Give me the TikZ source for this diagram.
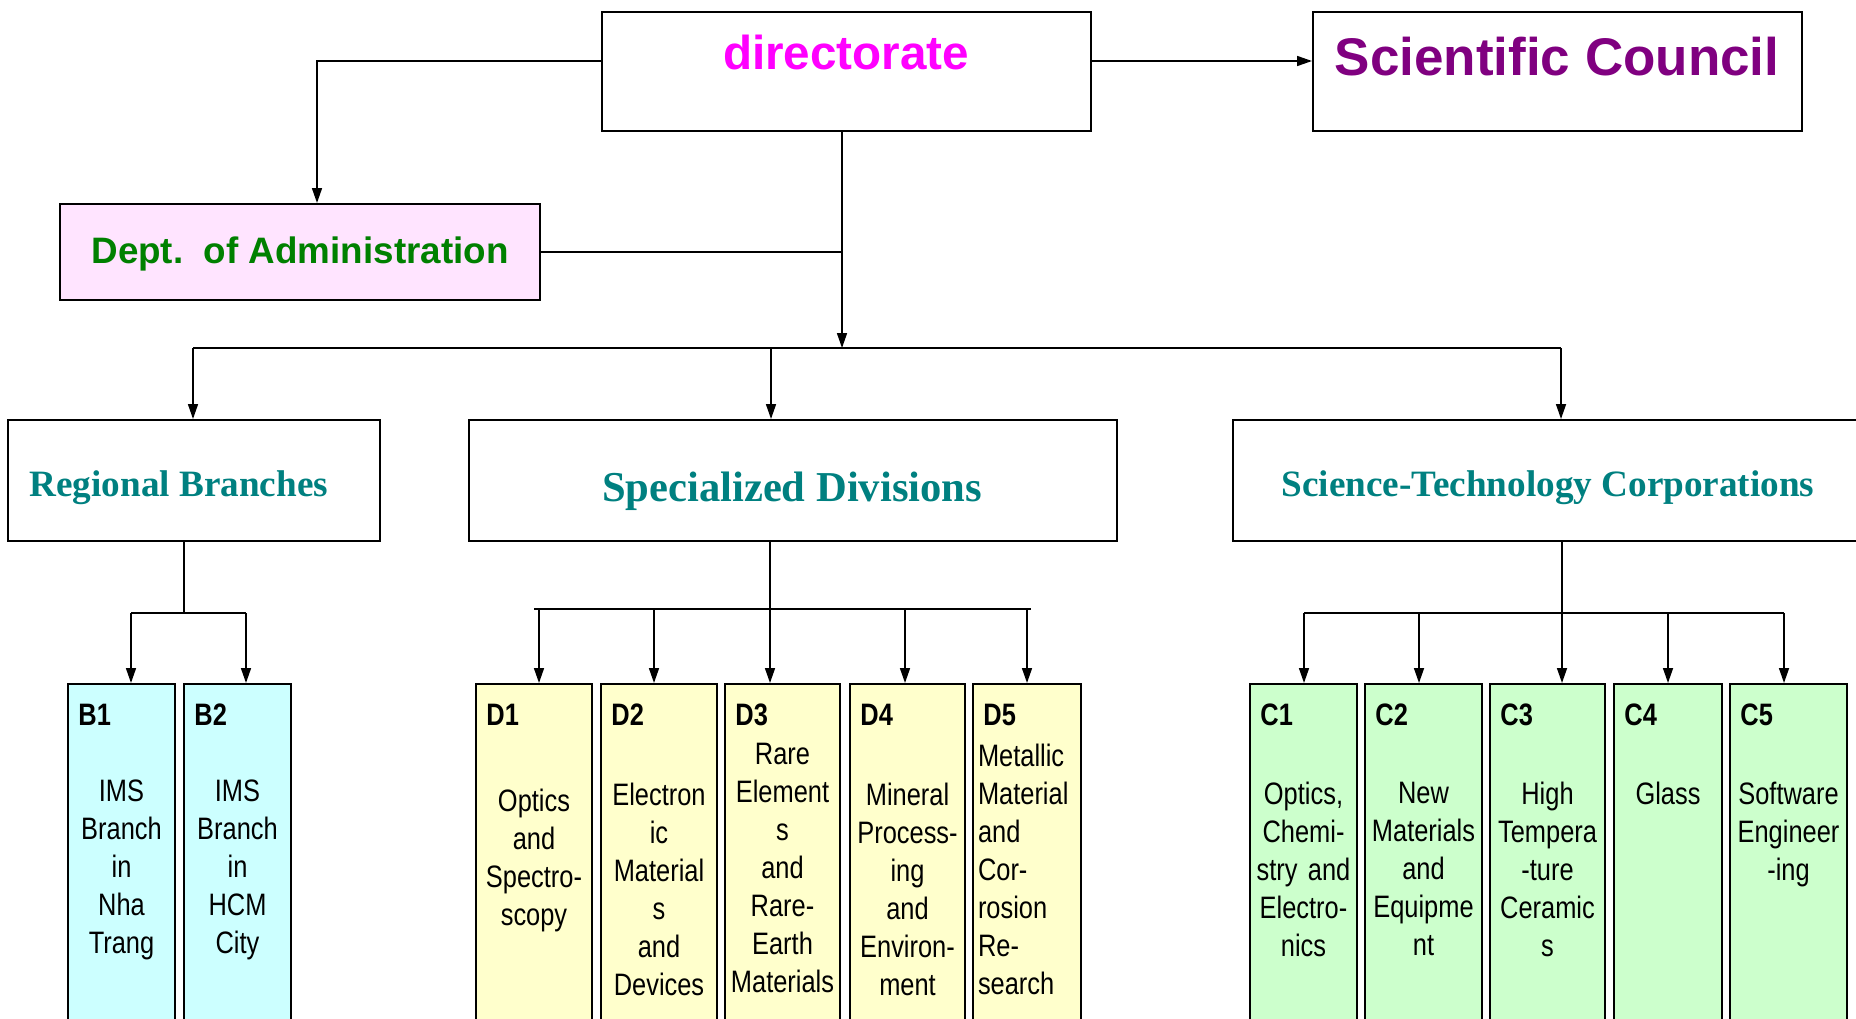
\documentclass[tikz,border=0pt]{standalone}
\usepackage{fontspec}
\setmainfont{Liberation Serif}
\newfontfamily\arialfont{Liberation Sans}
\newfontfamily\narrowfont[FakeStretch=0.82]{Liberation Sans}
\usetikzlibrary{arrows.meta, calc}
\definecolor{DirMagenta}{RGB}{255, 0, 255}
\definecolor{CouncilPurple}{RGB}{128, 0, 128}
\definecolor{AdmGreen}{RGB}{0, 128, 0}
\definecolor{AdmPink}{RGB}{255, 228, 255}
\definecolor{UnitTeal}{RGB}{0, 128, 128}
\definecolor{BranchCyan}{RGB}{204, 255, 255}
\definecolor{DivYellow}{RGB}{255, 255, 204}
\definecolor{CorpGreen}{RGB}{204, 255, 204}

\begin{document}
\begin{tikzpicture}[x=0.5pt, y=-0.5pt,
	box/.style={draw, line width=1pt, inner sep=0pt},
	link/.style={line width=0.8pt},
	arr/.style={link, -{Triangle[length=7.5pt, width=5pt]}},
	unit/.style={font=\bfseries\fontsize{18.6}{22}\selectfont, text=UnitTeal, inner sep=0pt, anchor=base},
	leafid/.style={font=\narrowfont\bfseries\fontsize{15.5}{19}\selectfont, inner sep=0pt, anchor=base west},
	leaftxt/.style={font=\narrowfont\fontsize{15.5}{19}\selectfont, inner sep=0pt, anchor=north},
	txtc/.style={align=center}, txtl/.style={align=left}]
	\clip (0,0) rectangle (1856,1018);
	% top level
	\node[box, minimum width=244.5pt, minimum height=59.5pt] (dir) at (846.5,71.5) {};
	\node[box, minimum width=244.5pt, minimum height=59.5pt] (sci) at (1557.5,71.5) {};
	\node[box, fill=AdmPink, minimum width=240pt, minimum height=48pt] (adm) at (300,252) {};
	\node[font=\arialfont\bfseries\fontsize{23.8}{28}\selectfont, text=DirMagenta, anchor=base] (dir-t) at (846,69) {directorate};
	\node[font=\arialfont\bfseries\fontsize{26.5}{31}\selectfont, text=CouncilPurple, anchor=base] (sci-t) at (1557,75) {Scientific Council};
	\node[font=\arialfont\bfseries\fontsize{18.4}{22}\selectfont, text=AdmGreen, anchor=base] (adm-t) at (300,263) {Dept.\ \ of Administration};
	% units
	\node[box, minimum width=186pt, minimum height=60.5pt] (reg) at (194,480.5) {};
	\node[box, minimum width=324pt, minimum height=60.5pt] (spec) at (793,480.5) {};
	\node[box, minimum width=315pt, minimum height=60.5pt] (corp) at (1548,480.5) {};
	\node[unit, anchor=base west] (reg-t) at (29,496) {Regional Branches};
	\node[unit, font=\bfseries\fontsize{21.3}{25}\selectfont] (spec-t) at (792,501) {Specialized Divisions};
	\node[unit] (corp-t) at (1548,496) {Science-Technology Corporations};
	% connectors
	\coordinate (tap) at (317,61);
	\coordinate (hub) at (842,348);
	\coordinate (busR) at (193,348);
	\coordinate (busS) at (771,348);
	\coordinate (busC) at (1561,348);
	\draw[arr] (dir.west |- tap) -- (tap) -- (tap |- adm.north);
	\draw[arr] (dir.east |- tap) -- (sci.west |- tap);
	\draw[arr] (dir.south -| hub) -- (hub);
	\draw[link] (adm.east) -- (adm.east -| hub);
	\draw[link] (busR) -- (busC);
	\foreach \u/\b in {reg/busR, spec/busS, corp/busC}
		\draw[arr] (\b) -- (\b |- \u.north);
	% leaves
	\foreach \n/\xl/\xr/\ax/\ty/\al/\txt in {
		B1/68/175/131/779/txtc/{IMS\\Branch\\in\\Nha\\Trang},
		B2/184/291/246/779/txtc/{IMS\\Branch\\in\\HCM\\City}} {
		\pgfmathsetmacro\cx{(\xl+\xr)/2}
		\pgfmathsetmacro\bw{(\xr-\xl)*0.5}
		\pgfmathsetmacro\tw{(\xr-\xl-10)*0.5}
		\node[box, fill=BranchCyan, minimum width=\bw pt, minimum height=173pt] (\n) at (\cx,857) {};
		\node[leafid] (\n-id) at (\xl+10,725) {\n};
		\node[leaftxt, \al, text width=\tw pt] (\n-txt) at (\cx,\ty) {\txt};
		\coordinate (\n-in) at (\ax,613);
		\draw[arr] (\n-in) -- (\n-in |- \n.north);
	}
	\foreach \n/\xl/\xr/\ax/\ty/\al/\txt in {
		D1/476/592/539/789/txtc/{Optics\\and\\Spectro-\\scopy},
		D2/601/717/654/783/txtc/{Electron\\ic\\Material\\s\\and\\Devices},
		D3/725/840/770/743/txtc/{Rare\\Element\\s\\and\\Rare-\\Earth\\Materials},
		D4/850/965/905/783/txtc/{Mineral\\Process-\\ing\\and\\Environ-\\ment},
		D5/973/1081/1027/744/txtl/{Metallic\\Material\\and\\Cor-\\rosion\\Re-\\search}} {
		\pgfmathsetmacro\cx{(\xl+\xr)/2}
		\pgfmathsetmacro\bw{(\xr-\xl)*0.5}
		\pgfmathsetmacro\tw{(\xr-\xl-10)*0.5}
		\node[box, fill=DivYellow, minimum width=\bw pt, minimum height=173pt] (\n) at (\cx,857) {};
		\node[leafid] (\n-id) at (\xl+10,725) {\n};
		\node[leaftxt, \al, text width=\tw pt] (\n-txt) at (\cx,\ty) {\txt};
		\coordinate (\n-in) at (\ax,609);
		\draw[arr] (\n-in) -- (\n-in |- \n.north);
	}
	\foreach \n/\xl/\xr/\ax/\ty/\al/\txt in {
		C1/1250/1357/1304/782/txtc/{Optics,\\Chemi-\\stry and\\Electro-\\nics},
		C2/1365/1482/1419/782/txtc/{New\\Materials\\and\\Equipme\\nt},
		C3/1490/1605/1562/782/txtc/{High\\Tempera\\-ture\\Ceramic\\s},
		C4/1614/1722/1668/782/txtc/{Glass},
		C5/1730/1847/1784/782/txtc/{Software\\Engineer\\-ing}} {
		\pgfmathsetmacro\cx{(\xl+\xr)/2}
		\pgfmathsetmacro\bw{(\xr-\xl)*0.5}
		\pgfmathsetmacro\tw{(\xr-\xl-10)*0.5}
		\node[box, fill=CorpGreen, minimum width=\bw pt, minimum height=173pt] (\n) at (\cx,857) {};
		\node[leafid] (\n-id) at (\xl+10,725) {\n};
		\node[leaftxt, \al, text width=\tw pt] (\n-txt) at (\cx,\ty) {\txt};
		\coordinate (\n-in) at (\ax,613);
		\draw[arr] (\n-in) -- (\n-in |- \n.north);
	}
	% sub-buses
	\coordinate (rbus) at (184,613);
	\coordinate (sbus) at (770,609);
	\coordinate (cbus) at (1562,613);
	\draw[link] (rbus |- reg.south) -- (rbus);
	\draw[link] (sbus |- spec.south) -- (sbus);
	\draw[link] (cbus |- corp.south) -- (cbus);
	\draw[link] (B1-in) -- (B2-in);
	\draw[link] ([xshift=-2.5pt]D1-in) -- ([xshift=2pt]D5-in);
	\draw[link] (C1-in) -- (C5-in);
\end{tikzpicture}
\end{document}
